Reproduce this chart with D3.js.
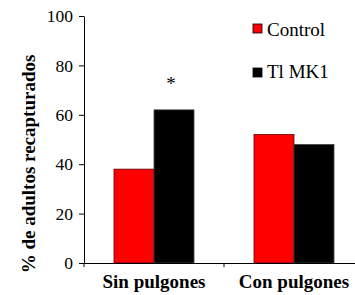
<!DOCTYPE html>
<html>
<head>
<meta charset="utf-8">
<script src="https://cdn.jsdelivr.net/npm/d3@7"></script>
<style>
  body { margin: 0; background: #fff; }
  svg text { font-family: 'Liberation Serif', 'Times New Roman', Times, serif !important; }
</style>
</head>
<body>
<div id="chart"></div>
<script>
// data
const categories = ['Sin pulgones', 'Con pulgones'];
const series = ['Control', 'Tl MK1'];
const controlValues = [38, 52];
const mk1Values = [62, 48];
const colors = ['#ff0000', '#000000'];
const yTicks = [0, 20, 40, 60, 80, 100];

const width = 355, height = 295;
const margin = { top: 16, left: 84, right: -9, bottom: 32 };
const serif = "'Liberation Serif', 'Times New Roman', Times, serif";

const svg = d3.select('#chart').append('svg')
    .attr('width', width)
    .attr('height', height)
    .attr('font-family', serif);

const x = d3.scaleBand()
    .domain(categories)
    .range([margin.left, width - margin.right])
    .padding(0);

const y = d3.scaleLinear()
    .domain([0, 100])
    .range([height - margin.bottom, margin.top]);

const barW = 40;

const rows = [];
categories.forEach((c, i) => {
    rows.push({ cat: c, s: 0, value: controlValues[i] });
    rows.push({ cat: c, s: 1, value: mk1Values[i] });
});

svg.selectAll('.bar')
    .data(rows)
    .enter()
    .append('rect')
    .attr('class', 'bar')
    .attr('x', d => x(d.cat) + x.bandwidth() / 2 - barW + d.s * barW)
    .attr('y', d => y(d.value))
    .attr('width', barW)
    .attr('height', d => y(0) - y(d.value))
    .attr('fill', d => colors[d.s])
    .attr('stroke', d => d.s === 0 ? '#5a0000' : '#444')
    .attr('stroke-width', 0.8);

// asterisk over the significant bar
svg.append('text')
    .attr('x', x(categories[0]) + x.bandwidth() / 2 + barW / 2 - 3)
    .attr('y', 90)
    .attr('text-anchor', 'middle')
    .attr('font-size', '19px')
    .text('*');

// y axis
const yAxis = svg.append('g')
    .attr('transform', `translate(${margin.left},0)`)
    .call(d3.axisLeft(y).tickValues(yTicks).tickSize(5).tickSizeOuter(0));
yAxis.attr('font-family', serif);
yAxis.select('.domain').attr('stroke', '#000');
yAxis.selectAll('.tick line').attr('stroke', '#000');
yAxis.selectAll('.tick text')
    .attr('font-size', '17.5px')
    .attr('fill', '#000')
    .attr('x', -11);

// x axis
const xAxis = svg.append('g')
    .attr('transform', `translate(0,${y(0)})`)
    .call(d3.axisBottom(x).tickSize(0).tickSizeOuter(0));
xAxis.attr('font-family', serif);
xAxis.select('.domain').attr('stroke', '#000');
xAxis.selectAll('.tick text')
    .attr('font-size', '19px')
    .attr('font-weight', 'bold')
    .attr('fill', '#000')
    .attr('dy', 0)
    .attr('y', 25);

// boundary ticks on the x axis
svg.selectAll('.xsep')
    .data([categories[0], categories[1]])
    .enter()
    .append('line')
    .attr('x1', d => x(d))
    .attr('x2', d => x(d))
    .attr('y1', y(0))
    .attr('y2', y(0) + 4)
    .attr('stroke', '#000');

// y axis title
svg.append('text')
    .attr('transform', `translate(35,${(55 + 273) / 2}) rotate(-90)`)
    .attr('text-anchor', 'middle')
    .attr('font-size', '19px')
    .attr('font-weight', 'bold')
    .text('% de adultos recapturados');

// legend
const legend = svg.selectAll('.legend')
    .data(series)
    .enter()
    .append('g')
    .attr('transform', (d, i) => `translate(253,${24 + i * 44})`);
legend.append('rect')
    .attr('width', 9)
    .attr('height', 9)
    .attr('fill', (d, i) => colors[i])
    .attr('stroke', '#000')
    .attr('stroke-width', 0.8);
legend.append('text')
    .attr('x', 14)
    .attr('y', (d, i) => i === 0 ? 12 : 10)
    .attr('font-size', '19px')
    .text(d => d);
</script>
</body>
</html>
